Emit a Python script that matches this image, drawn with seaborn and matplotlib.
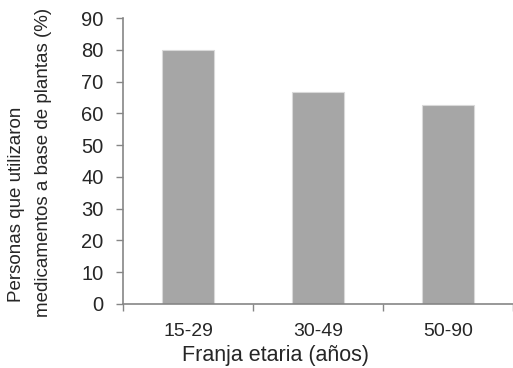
import matplotlib
matplotlib.use('Agg')
import matplotlib.pyplot as plt
import pandas as pd
import seaborn as sns

# datos
grupos = ['15-29', '30-49', '50-90']
porcentajes = [80.0, 66.6, 62.5]

sns.set_style("white")
plt.rcParams['font.family'] = ['Liberation Sans', 'DejaVu Sans']

df = pd.DataFrame({'grupo': grupos, 'pct': porcentajes})

fig = plt.figure(figsize=(5.13, 3.68), dpi=100)
ax = fig.add_axes([0.2398, 0.174, 0.76, 0.777])

sns.barplot(x='grupo', y='pct', data=df, color='#a6a6a6', width=0.4,
            edgecolor='#d9d9d9', linewidth=0.8, saturation=1, ax=ax)

ax.set_xlim(-0.5, 2.5)
ax.set_ylim(0, 90)
ax.set_yticks(range(0, 91, 10))
ax.set_xticks([-0.5, 0.5, 1.5, 2.5], minor=True)
ax.tick_params(axis='x', which='major', length=0, labelsize=14, pad=14)
ax.tick_params(axis='x', which='minor', length=5, width=1, color='#868686', direction='out', bottom=True)
ax.tick_params(axis='y', length=5, width=1, color='#868686', direction='out', left=True, labelsize=14.5, pad=9)

for s in ['top', 'right']:
    ax.spines[s].set_visible(False)
for s in ['left', 'bottom']:
    ax.spines[s].set_color('#868686')
    ax.spines[s].set_linewidth(1.2)

ax.set_xlabel('')
ax.set_ylabel('')
# etiquetas como en el original (no centradas en el eje)
fig.text(275 / 513, 1 - 355 / 368, 'Franja etaria (años)', fontsize=15.5, ha='center', va='center')
fig.text(17 / 513, 1 - 204 / 368, 'Personas que utilizaron', fontsize=13.5,
         rotation=90, ha='center', va='center')
fig.text(44 / 513, 1 - 162 / 368, 'medicamentos a base de plantas (%)', fontsize=13.5,
         rotation=90, ha='center', va='center')

plt.savefig('out.png', dpi=100)
